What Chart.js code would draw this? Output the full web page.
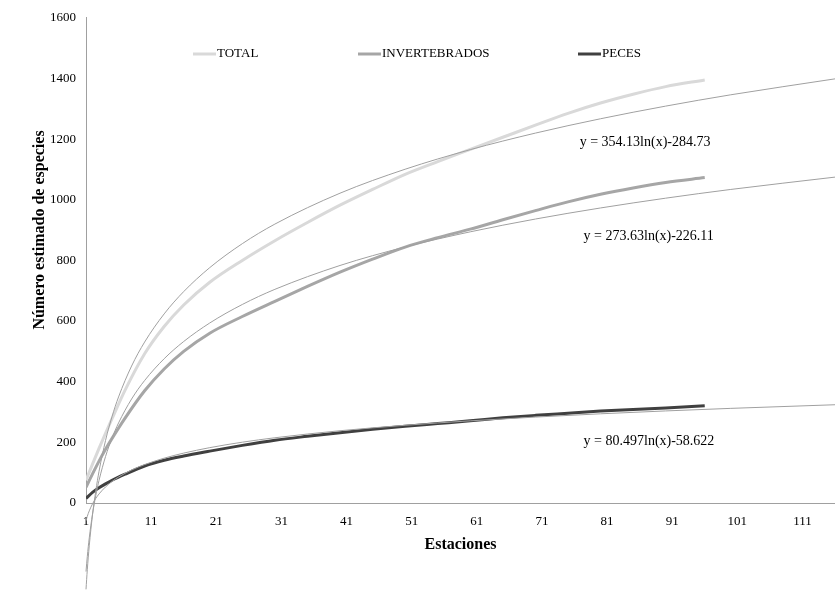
<!DOCTYPE html>
<html>
<head>
<meta charset="utf-8">
<script src="https://cdn.jsdelivr.net/npm/chart.js@4/dist/chart.umd.min.js"></script>
<style>
	html, body { margin: 0; padding: 0; background: #fff; }
	#wrap { width: 835px; height: 594px; }
</style>
</head>
<body>
<div id="wrap"><canvas id="curve-canvas"></canvas></div>
<script>
const stations = [1, 2, 3, 4, 5, 7, 10, 13, 16, 20, 25, 30, 35, 40, 45, 50, 55, 60, 65, 70, 75, 80, 85, 90, 96];
const total = [75, 128, 180, 230, 278, 372, 492, 582, 653, 728, 800, 865, 925, 982, 1034, 1084, 1126, 1166, 1206, 1246, 1285, 1319, 1348, 1373, 1395];
const invertebrados = [52, 96, 138, 177, 213, 280, 370, 442, 500, 560, 615, 665, 714, 761, 804, 844, 875, 903, 934, 964, 993, 1018, 1039, 1057, 1073];
const peces = [15, 35, 50, 63, 75, 95, 122, 141, 155, 171, 190, 207, 220, 232, 243, 253, 262, 271, 281, 289, 296, 303, 308, 313, 321];

// logarithmic trendlines as printed on the chart: y = a ln(x) + b
const trendA = [354.13, 273.63, 80.497];
const trendB = [-284.73, -226.11, -58.622];
const trendX = [1, 1.2, 1.5, 2, 2.5, 3, 4, 5, 6, 8, 10, 13, 16, 20, 25, 30, 40, 50, 60, 70, 80, 90, 100, 116];

const seriesNames = ["TOTAL", "INVERTEBRADOS", "PECES"];
const xTicks = [1, 11, 21, 31, 41, 51, 61, 71, 81, 91, 101, 111];

const serif = "'Liberation Serif', 'Times New Roman', serif";
const colors = ["#d9d9d9", "#a6a6a6", "#404040"];

const toPoints = (values) => stations.map((s, i) => ({ x: s, y: values[i] }));
const trendPoints = (k) => trendX.map((x) => ({ x: x, y: trendA[k] * Math.log(x) + trendB[k] }));

const equations = [
	{ text: "y = 354.13ln(x)-284.73", x: 76.8, y: 1188 },
	{ text: "y = 273.63ln(x)-226.11", x: 77.4, y: 880 },
	{ text: "y = 80.497ln(x)-58.622", x: 77.4, y: 203 },
];

const labelsPlugin = {
	id: "labels",
	afterDraw(chart) {
		const { ctx, chartArea, scales } = chart;
		ctx.save();
		ctx.fillStyle = "#000";

		// legend
		const legendX = [193, 358, 578];
		ctx.font = "13px " + serif;
		ctx.textBaseline = "middle";
		ctx.textAlign = "left";
		seriesNames.forEach((name, i) => {
			ctx.strokeStyle = colors[i];
			ctx.lineWidth = 3;
			ctx.beginPath();
			ctx.moveTo(legendX[i], 54);
			ctx.lineTo(legendX[i] + 23, 54);
			ctx.stroke();
			ctx.fillText(name, legendX[i] + 24, 54);
		});

		// trendline equations
		ctx.font = "14px " + serif;
		equations.forEach((e) => {
			ctx.fillText(e.text, scales.x.getPixelForValue(e.x), scales.y.getPixelForValue(e.y));
		});

		// axis titles
		ctx.font = "bold 16px " + serif;
		ctx.textAlign = "center";
		ctx.fillText("Estaciones", (chartArea.left + chartArea.right) / 2, 545);
		ctx.translate(40, 230);
		ctx.rotate(-Math.PI / 2);
		ctx.fillText("Número estimado de especies", 0, 0);
		ctx.restore();
	},
};

const curveCanvas = document.getElementById("curve-canvas").getContext("2d");

const datasets = [];
[total, invertebrados, peces].forEach((values, i) => {
	datasets.push({
		label: seriesNames[i],
		data: toPoints(values),
		borderColor: colors[i],
		borderWidth: 3,
		pointRadius: 0,
		cubicInterpolationMode: "monotone",
		order: 2,
	});
});
trendA.forEach((a, k) => {
	datasets.push({
		label: "trend " + seriesNames[k],
		data: trendPoints(k),
		borderColor: "#a0a0a0",
		borderWidth: 1,
		pointRadius: 0,
		cubicInterpolationMode: "monotone",
		clip: false,
		order: 1,
	});
});

new Chart(curveCanvas, {
	type: "line",
	data: { datasets: datasets },
	options: {
		responsive: true,
		maintainAspectRatio: false,
		animation: false,
		layout: { padding: { top: 14, right: 0, bottom: 0, left: 0 } },
		plugins: {
			legend: { display: false },
			tooltip: { enabled: false },
		},
		scales: {
			x: {
				type: "linear",
				min: 1,
				max: 116,
				afterBuildTicks: (scale) => {
					scale.ticks = xTicks.map((v) => ({ value: v }));
				},
				afterFit: (scale) => {
					scale.height = 91;
				},
				grid: { display: false, drawTicks: false },
				border: { display: true, color: "#a0a0a0", width: 1 },
				ticks: {
					autoSkip: false,
					maxRotation: 0,
					padding: 11,
					color: "#000",
					font: { family: serif, size: 13 },
					callback: (v) => String(v),
				},
			},
			y: {
				min: 0,
				max: 1600,
				afterFit: (scale) => {
					scale.width = 86;
				},
				grid: { display: false, drawTicks: false },
				border: { display: true, color: "#a0a0a0", width: 1 },
				ticks: {
					stepSize: 200,
					padding: 10,
					color: "#000",
					font: { family: serif, size: 13 },
					callback: (v) => String(v),
				},
			},
		},
	},
	plugins: [labelsPlugin],
});
</script>
</body>
</html>
